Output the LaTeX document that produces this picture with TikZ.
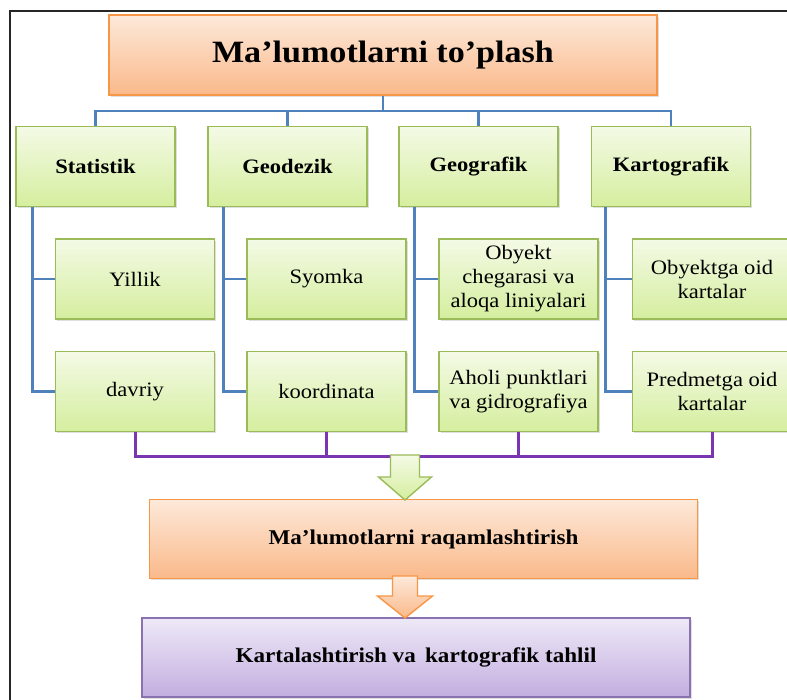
\documentclass[tikz,border=0pt]{standalone}
\usepackage{fontspec}
\setmainfont{Liberation Serif}[FakeStretch=1.1]
\usetikzlibrary{shadows}
\definecolor{gtop}{HTML}{F4FAE6}
\definecolor{gbot}{HTML}{D5EE9E}
\definecolor{gline}{HTML}{9BBB59}
\definecolor{otop}{HTML}{FDE9DA}
\definecolor{obot}{HTML}{FAB98A}
\definecolor{oline}{HTML}{F79646}
\definecolor{ptop}{HTML}{EEE9F7}
\definecolor{pbot}{HTML}{C3AEE0}
\definecolor{pline}{HTML}{8A72B0}
\definecolor{bluel}{HTML}{4F81BD}
\definecolor{purl}{HTML}{7A35B0}
\tikzset{
  shade/.style={drop shadow={opacity=0.25,shadow xshift=1.5pt,shadow yshift=-1.5pt}},
  greenbox/.style={draw=gline,line width=1.6pt,top color=gtop,bottom color=gbot,shade,
    minimum width=159pt,minimum height=80pt,inner sep=2pt,align=center},
  lvlone/.style={greenbox,font=\fontsize{20.5}{24}\selectfont\bfseries},
  lvltwo/.style={greenbox,font=\fontsize{20.5}{24}\selectfont},
  orangebox/.style={draw=oline,line width=1.6pt,top color=otop,bottom color=obot,shade,
    minimum width=548pt,minimum height=79pt,align=center},
  purplebox/.style={draw=pline,line width=1.6pt,top color=ptop,bottom color=pbot,shade,
    minimum width=548pt,minimum height=79pt,align=center},
  blueline/.style={draw=bluel,line width=2.8pt},
  purpleline/.style={draw=purl,line width=3pt},
}
\begin{document}
\begin{tikzpicture}[x=1pt,y=-1pt]
\useasboundingbox (0,0) rectangle (787,699);
\fill[white] (0,0) rectangle (787,699);
% frame
\draw[line width=2.5pt,black!85] (10,705) -- (10,11) -- (795,11);

% title
\node[orangebox,minimum height=80pt,font=\fontsize{31}{36}\selectfont\bfseries] (top) at (383,55) {Ma’lumotlarni to’plash};

% level one
\node[lvlone] (stat) at (95.5,166.5) {Statistik};
\node[lvlone] (geod) at (287.5,166.5) {Geodezik};
\node[lvlone] (geog) at (478.5,166.5) {Geografik};
\node[lvlone] (kart) at (671,166.5) {Kartografik};

% level two
\node[lvltwo] (yil) at (135,279) {Yillik};
\node[lvltwo] (dav) at (135,391.5) {davriy};
\node[lvltwo] (syo) at (326.5,279) {Syomka};
\node[lvltwo] (koo) at (326.5,391.5) {koordinata};
\node[lvltwo] (oby) at (518.5,279) {Obyekt\\chegarasi va\\aloqa liniyalari};
\node[lvltwo] (aho) at (518.5,391.5) {Aholi punktlari\\va gidrografiya};
\node[lvltwo] (obk) at (712,279) {Obyektga oid\\kartalar};
\node[lvltwo] (pre) at (712,391.5) {Predmetga oid\\kartalar};

% lower boxes
\node[orangebox,font=\fontsize{21}{24}\selectfont\bfseries] (raq) at (423.5,539) {Ma’lumotlarni raqamlashtirish};
\node[purplebox,font=\fontsize{21}{24}\selectfont\bfseries] (kar) at (416,657.5) {Kartalashtirish va\, kartografik tahlil};

% blue tree
\coordinate (bus) at (0,111);
\draw[blueline] (top.south) -- (top.south |- bus);
\draw[blueline] (stat.north) -- (stat.north |- bus) -- (kart.north |- bus) -- (kart.north);
\draw[blueline] (geod.north) -- (geod.north |- bus);
\draw[blueline] (geog.north) -- (geog.north |- bus);

\draw[blueline] ([xshift=17pt]stat.south west) |- (yil.west);
\draw[blueline] ([xshift=17pt]stat.south west) |- (dav.west);
\draw[blueline] ([xshift=16pt]geod.south west) |- (syo.west);
\draw[blueline] ([xshift=16pt]geod.south west) |- (koo.west);
\draw[blueline] ([xshift=16pt]geog.south west) |- (oby.west);
\draw[blueline] ([xshift=16pt]geog.south west) |- (aho.west);
\draw[blueline] ([xshift=15pt]kart.south west) |- (obk.west);
\draw[blueline] ([xshift=15pt]kart.south west) |- (pre.west);

% purple bus
\coordinate (pbus) at (0,456);
\draw[purpleline] (dav.south) -- (dav.south |- pbus) -- (pre.south |- pbus) -- (pre.south);
\draw[purpleline] (koo.south) -- (koo.south |- pbus);
\draw[purpleline] (aho.south) -- (aho.south |- pbus);

% block arrows
\coordinate (ga) at (405,455);
\draw[draw=gline,line width=1.4pt,top color=gtop,bottom color=gbot]
  ([xshift=-14.5pt]ga) -- ([xshift=14.5pt]ga) -- ([xshift=14.5pt,yshift=-22pt]ga)
  -- ([xshift=26.5pt,yshift=-22pt]ga) -- ([yshift=-45pt]ga) -- ([xshift=-26.5pt,yshift=-22pt]ga)
  -- ([xshift=-14.5pt,yshift=-22pt]ga) -- cycle;
\coordinate (oa) at (405,576);
\draw[draw=oline,line width=1.4pt,top color=otop,bottom color=obot]
  ([xshift=-12.5pt]oa) -- ([xshift=12.5pt]oa) -- ([xshift=12.5pt,yshift=-20pt]oa)
  -- ([xshift=27.5pt,yshift=-20pt]oa) -- ([yshift=-42pt]oa) -- ([xshift=-27.5pt,yshift=-20pt]oa)
  -- ([xshift=-12.5pt,yshift=-20pt]oa) -- cycle;
\end{tikzpicture}
\end{document}
